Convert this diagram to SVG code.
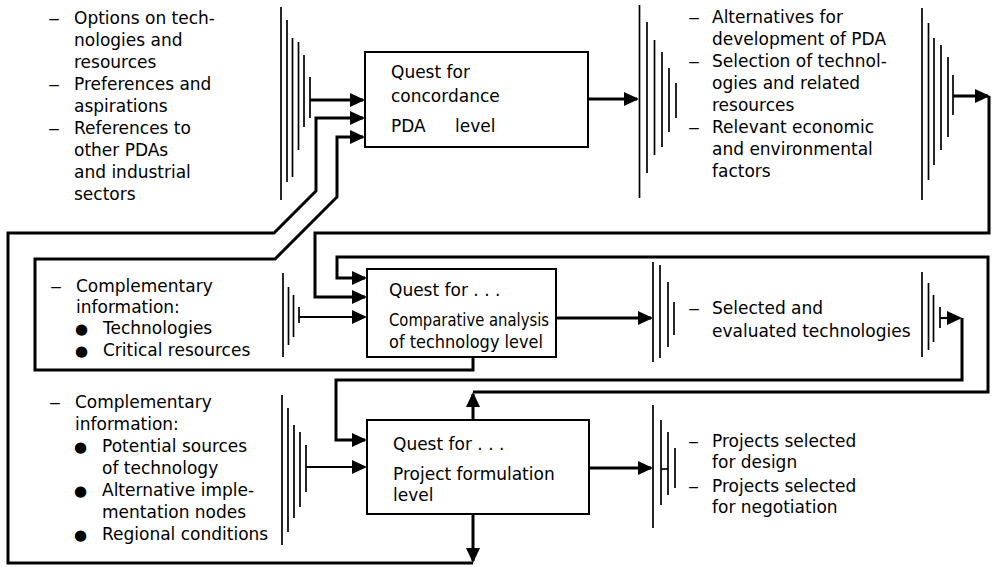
<svg xmlns="http://www.w3.org/2000/svg" width="993" height="567" viewBox="0 0 993 567">
<style>
.t{font-family:"DejaVu Sans","Liberation Sans",sans-serif;font-size:17px;fill:#000}
.b{font-family:"DejaVu Sans",sans-serif;font-size:15px;fill:#000}
.box{fill:#fff;stroke:#000;stroke-width:2}
.h line{stroke:#000;stroke-width:1.7}
.c{fill:none;stroke:#000;stroke-width:3;stroke-linejoin:miter}
.c2{fill:none;stroke:#000;stroke-width:2.2}
</style>
<defs>
<marker id="ah" viewBox="0 0 15 14" markerWidth="15" markerHeight="14" refX="13" refY="7" orient="auto" markerUnits="userSpaceOnUse">
<path d="M0,0 L15,7 L0,14 z" fill="#000"/>
</marker>
</defs>
<rect width="993" height="567" fill="#fff"/>

<g id="connectors">
<line class="c" x1="310" y1="100" x2="363" y2="100" marker-end="url(#ah)"/>
<line class="c" x1="473" y1="514" x2="473" y2="561" marker-end="url(#ah)"/>
<polyline class="c" points="473,563 8,563 8,233 274,233 316,191 316,118 363,118" marker-end="url(#ah)"/>
<polyline class="c" points="473,357 473,370 35,370 35,259 275,259 337,197 337,137 363,137" marker-end="url(#ah)"/>
<line class="c" x1="588" y1="99" x2="637" y2="99" marker-end="url(#ah)"/>
<line class="c" x1="953" y1="96" x2="988" y2="96" marker-end="url(#ah)"/>
<polyline class="c" points="989,96 989,233 315,233 315,297 365,297" marker-end="url(#ah)"/>
<line class="c" x1="556" y1="318" x2="651" y2="318" marker-end="url(#ah)"/>
<line class="c2" x1="299" y1="317" x2="365" y2="317" marker-end="url(#ah)"/>
<line class="c" x1="473" y1="420" x2="473" y2="394" marker-end="url(#ah)"/>
<polyline class="c" points="473,392 988,392 988,257 337,257 337,278 365,278" marker-end="url(#ah)"/>
<line class="c2" x1="940" y1="318" x2="960" y2="318" marker-end="url(#ah)"/>
<polyline class="c" points="962,318 962,380 336,380 336,440 365,440" marker-end="url(#ah)"/>
<line class="c2" x1="306" y1="467" x2="365" y2="467" marker-end="url(#ah)"/>
<line class="c" x1="589" y1="468" x2="651" y2="468" marker-end="url(#ah)"/>
</g>

<g id="bracket-inputs-1" class="h">
<line x1="281" y1="7" x2="281" y2="200"/><line x1="287" y1="20" x2="287" y2="182"/>
<line x1="292.5" y1="38" x2="292.5" y2="177"/><line x1="298.5" y1="42" x2="298.5" y2="150"/>
<line x1="304" y1="55" x2="304" y2="127"/><line x1="310" y1="77" x2="310" y2="118"/>
</g>
<g id="bracket-outputs-1a" class="h">
<line x1="639.5" y1="5" x2="639.5" y2="198"/><line x1="647" y1="22" x2="647" y2="173"/>
<line x1="654.5" y1="40" x2="654.5" y2="155"/><line x1="662" y1="52" x2="662" y2="147"/>
<line x1="669" y1="68" x2="669" y2="132"/><line x1="676" y1="83" x2="676" y2="118"/>
</g>
<g id="bracket-outputs-1b" class="h">
<line x1="922" y1="8" x2="922" y2="200"/><line x1="928.5" y1="23" x2="928.5" y2="180"/>
<line x1="934" y1="38" x2="934" y2="165"/><line x1="941" y1="45" x2="941" y2="150"/>
<line x1="948" y1="57" x2="948" y2="137"/><line x1="953" y1="75" x2="953" y2="115"/>
</g>
<g id="bracket-inputs-2" class="h">
<line x1="283" y1="273" x2="283" y2="357"/><line x1="288.5" y1="287" x2="288.5" y2="345"/>
<line x1="293.5" y1="295" x2="293.5" y2="337"/><line x1="299" y1="307" x2="299" y2="323"/>
</g>
<g id="bracket-outputs-2a" class="h">
<line x1="653" y1="262" x2="653" y2="362"/><line x1="660" y1="265" x2="660" y2="358"/>
<line x1="668" y1="282" x2="668" y2="347"/><line x1="674" y1="302" x2="674" y2="335"/>
</g>
<g id="bracket-outputs-2b" class="h">
<line x1="922" y1="272" x2="922" y2="357"/><line x1="928.5" y1="283" x2="928.5" y2="350"/>
<line x1="933.5" y1="295" x2="933.5" y2="342"/><line x1="940" y1="307" x2="940" y2="328"/>
</g>
<g id="bracket-inputs-3" class="h">
<line x1="282" y1="395" x2="282" y2="545"/><line x1="288" y1="408" x2="288" y2="532"/>
<line x1="294" y1="425" x2="294" y2="518"/><line x1="300" y1="432" x2="300" y2="507"/>
<line x1="306" y1="445" x2="306" y2="492"/>
</g>
<g id="bracket-outputs-3" class="h">
<line x1="653" y1="405" x2="653" y2="528"/><line x1="661" y1="420" x2="661" y2="505"/>
<line x1="668" y1="432" x2="668" y2="495"/><line x1="675" y1="448" x2="675" y2="488"/>
<line x1="661" y1="469" x2="668" y2="469"/>
</g>

<g id="box-concordance">
<rect class="box" x="365" y="52" width="223" height="95"/>
<text class="t" x="391" y="78">Quest for</text>
<text class="t" x="391" y="102">concordance</text>
<text class="t" y="132"><tspan x="391">PDA</tspan><tspan x="455">level</tspan></text>
</g>
<g id="box-comparative">
<rect class="box" x="367" y="269" width="189" height="88"/>
<text class="t" x="389" y="296">Quest for . . .</text>
<text class="t" x="389" y="326" textLength="160" lengthAdjust="spacingAndGlyphs">Comparative analysis</text>
<text class="t" x="389" y="348" textLength="154" lengthAdjust="spacingAndGlyphs">of technology level</text>
</g>
<g id="box-project">
<rect class="box" x="367" y="420" width="222" height="94"/>
<text class="t" x="393" y="450">Quest for . . .</text>
<text class="t" x="393" y="480">Project formulation</text>
<text class="t" x="393" y="501">level</text>
</g>

<g id="text-inputs-1">
<text class="t" y="24"><tspan x="48" textLength="12" lengthAdjust="spacingAndGlyphs">–</tspan><tspan x="74">Options on tech-</tspan></text>
<text class="t" x="74" y="46">nologies and</text>
<text class="t" x="74" y="68">resources</text>
<text class="t" y="90"><tspan x="48" textLength="12" lengthAdjust="spacingAndGlyphs">–</tspan><tspan x="74">Preferences and</tspan></text>
<text class="t" x="74" y="112">aspirations</text>
<text class="t" y="134"><tspan x="48" textLength="12" lengthAdjust="spacingAndGlyphs">–</tspan><tspan x="74">References to</tspan></text>
<text class="t" x="74" y="156">other PDAs</text>
<text class="t" x="74" y="178">and industrial</text>
<text class="t" x="74" y="200">sectors</text>
</g>
<g id="text-outputs-1">
<text class="t" y="23"><tspan x="688" textLength="12" lengthAdjust="spacingAndGlyphs">–</tspan><tspan x="712">Alternatives for</tspan></text>
<text class="t" x="712" y="45">development of PDA</text>
<text class="t" y="67"><tspan x="688" textLength="12" lengthAdjust="spacingAndGlyphs">–</tspan><tspan x="712">Selection of technol-</tspan></text>
<text class="t" x="712" y="89">ogies and related</text>
<text class="t" x="712" y="111">resources</text>
<text class="t" y="133"><tspan x="688" textLength="12" lengthAdjust="spacingAndGlyphs">–</tspan><tspan x="712">Relevant economic</tspan></text>
<text class="t" x="712" y="155">and environmental</text>
<text class="t" x="712" y="177">factors</text>
</g>
<g id="text-inputs-2">
<text class="t" y="292"><tspan x="50" textLength="12" lengthAdjust="spacingAndGlyphs">–</tspan><tspan x="76">Complementary</tspan></text>
<text class="t" x="76" y="313">information:</text>
<text class="b" x="75" y="334">●</text><text class="t" x="103" y="334">Technologies</text>
<text class="b" x="75" y="356">●</text><text class="t" x="103" y="356">Critical resources</text>
</g>
<g id="text-outputs-2">
<text class="t" y="314"><tspan x="688" textLength="12" lengthAdjust="spacingAndGlyphs">–</tspan><tspan x="712">Selected and</tspan></text>
<text class="t" x="712" y="337">evaluated technologies</text>
</g>
<g id="text-inputs-3">
<text class="t" y="408"><tspan x="49" textLength="12" lengthAdjust="spacingAndGlyphs">–</tspan><tspan x="75">Complementary</tspan></text>
<text class="t" x="75" y="430">information:</text>
<text class="b" x="74" y="452">●</text><text class="t" x="102" y="452">Potential sources</text>
<text class="t" x="102" y="474">of technology</text>
<text class="b" x="74" y="496">●</text><text class="t" x="102" y="496">Alternative imple-</text>
<text class="t" x="102" y="518">mentation nodes</text>
<text class="b" x="74" y="540">●</text><text class="t" x="102" y="540">Regional conditions</text>
</g>
<g id="text-outputs-3">
<text class="t" y="447"><tspan x="688" textLength="11" lengthAdjust="spacingAndGlyphs">–</tspan><tspan x="712">Projects selected</tspan></text>
<text class="t" x="712" y="468">for design</text>
<text class="t" y="492"><tspan x="688" textLength="11" lengthAdjust="spacingAndGlyphs">–</tspan><tspan x="712">Projects selected</tspan></text>
<text class="t" x="712" y="513">for negotiation</text>
</g>
</svg>
